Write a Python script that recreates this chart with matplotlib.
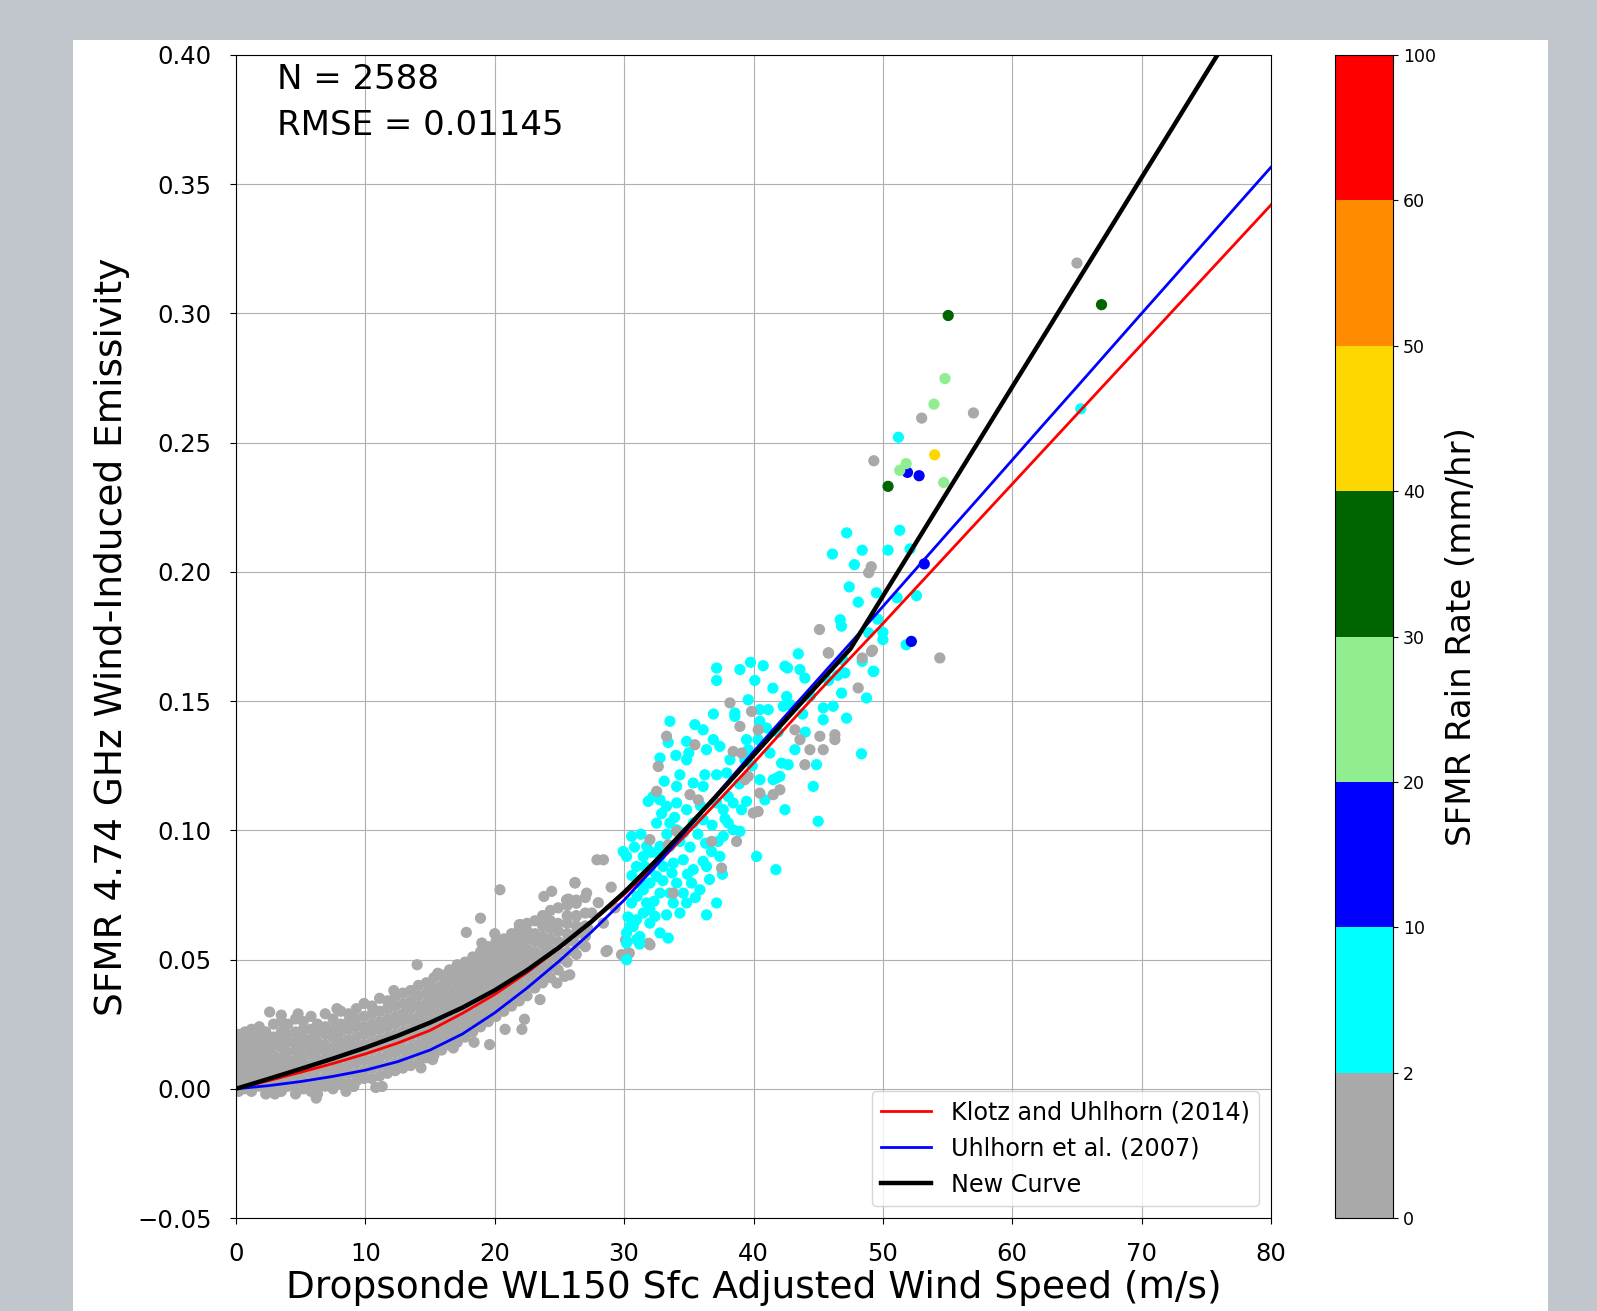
import numpy as np
import matplotlib.pyplot as plt
from matplotlib.colors import ListedColormap, BoundaryNorm
from matplotlib.patches import Rectangle

# model curves, every 2.5 m/s
curve_wind = [0, 2.5, 5, 7.5, 10, 12.5, 15, 17.5, 20, 22.5, 25, 27.5, 30, 32.5, 35, 37.5, 40,
              42.5, 45, 47.5, 50, 52.5, 55, 57.5, 60, 62.5, 65, 67.5, 70, 72.5, 75, 77.5, 80]
klotz_2014 = [0, 0.0031, 0.0064, 0.0098, 0.0135, 0.0177, 0.0226, 0.0292, 0.0365, 0.0450, 0.0545,
              0.0645, 0.0752, 0.0868, 0.0994, 0.1126, 0.1260, 0.1398, 0.1535, 0.1668, 0.1800,
              0.1935, 0.2070, 0.2205, 0.2340, 0.2475, 0.2610, 0.2745, 0.2880, 0.3015, 0.3150,
              0.3285, 0.3420]
uhlhorn_2007 = [0, 0.0012, 0.0028, 0.0048, 0.0072, 0.0105, 0.0150, 0.0212, 0.0294, 0.0390, 0.0495,
                0.0608, 0.0730, 0.0865, 0.1011, 0.1159, 0.1304, 0.1445, 0.1585, 0.1725, 0.1866,
                0.2008, 0.2150, 0.2291, 0.2433, 0.2575, 0.2716, 0.2858, 0.3000, 0.3141, 0.3283,
                0.3425, 0.3566]
new_curve = [0, 0.0038, 0.0077, 0.0117, 0.0159, 0.0205, 0.0256, 0.0314, 0.0381, 0.0459, 0.0548,
             0.0648, 0.0760, 0.0885, 0.1018, 0.1153, 0.1290, 0.1428, 0.1565, 0.1703, 0.1906,
             0.2108, 0.2311, 0.2513, 0.2716, 0.2918, 0.3121, 0.3323, 0.3526, 0.3728, 0.3931,
             0.4133, 0.4336]

# no-rain core of the scatter: wind speed -> emissivities in that column
gray_columns = [
    (0.2, [-0.001, 0.002, 0.005, 0.009, 0.012, 0.015, 0.018, 0.021]),
    (0.7, [0.000, 0.004, 0.007, 0.010, 0.013, 0.017, 0.020, 0.022]),
    (1.2, [-0.001, 0.003, 0.006, 0.009, 0.012, 0.016, 0.019, 0.023]),
    (1.8, [0.001, 0.004, 0.008, 0.011, 0.014, 0.017, 0.021, 0.024]),
    (2.3, [-0.002, 0.002, 0.005, 0.009, 0.012, 0.015, 0.019, 0.022]),
    (2.9, [0.000, 0.003, 0.007, 0.010, 0.013, 0.017, 0.020, 0.025]),
    (3.5, [-0.001, 0.002, 0.006, 0.009, 0.012, 0.016, 0.019, 0.022, 0.026]),
    (4.0, [0.001, 0.004, 0.008, 0.011, 0.014, 0.018, 0.021, 0.025]),
    (4.6, [-0.002, 0.001, 0.005, 0.008, 0.011, 0.015, 0.018, 0.022, 0.027]),
    (5.2, [0.000, 0.003, 0.007, 0.010, 0.013, 0.017, 0.020, 0.023, 0.026]),
    (5.8, [-0.001, 0.002, 0.006, 0.009, 0.013, 0.016, 0.019, 0.023, 0.028]),
    (6.3, [-0.002, 0.001, 0.004, 0.008, 0.011, 0.015, 0.018, 0.022, 0.025]),
    (6.9, [0.001, 0.004, 0.007, 0.011, 0.014, 0.017, 0.021, 0.024, 0.029]),
    (7.5, [0.000, 0.003, 0.006, 0.010, 0.013, 0.016, 0.020, 0.023, 0.027]),
    (8.1, [0.002, 0.005, 0.008, 0.012, 0.015, 0.018, 0.022, 0.025, 0.030]),
    (8.7, [0.002, 0.006, 0.009, 0.012, 0.016, 0.019, 0.023, 0.026, 0.029]),
    (9.3, [0.003, 0.006, 0.010, 0.013, 0.017, 0.020, 0.024, 0.027, 0.031]),
    (9.9, [0.004, 0.007, 0.011, 0.014, 0.017, 0.021, 0.024, 0.028, 0.033]),
    (10.5, [0.004, 0.008, 0.011, 0.015, 0.018, 0.022, 0.025, 0.029, 0.032]),
    (11.1, [0.005, 0.009, 0.012, 0.016, 0.019, 0.023, 0.026, 0.030, 0.035]),
    (11.7, [0.006, 0.009, 0.013, 0.016, 0.020, 0.024, 0.027, 0.031, 0.034]),
    (12.3, [0.007, 0.010, 0.014, 0.017, 0.021, 0.025, 0.028, 0.032, 0.036]),
    (12.9, [0.008, 0.011, 0.015, 0.019, 0.022, 0.026, 0.029, 0.033, 0.037]),
    (13.5, [0.009, 0.013, 0.016, 0.020, 0.023, 0.027, 0.031, 0.034, 0.038]),
    (14.1, [0.010, 0.014, 0.017, 0.021, 0.025, 0.028, 0.032, 0.036, 0.040]),
    (14.7, [0.012, 0.015, 0.019, 0.022, 0.026, 0.030, 0.033, 0.037, 0.041]),
    (15.3, [0.013, 0.017, 0.020, 0.024, 0.028, 0.031, 0.035, 0.039, 0.043]),
    (15.9, [0.015, 0.018, 0.022, 0.026, 0.029, 0.033, 0.037, 0.040, 0.044]),
    (16.5, [0.017, 0.020, 0.024, 0.027, 0.031, 0.035, 0.038, 0.042, 0.046]),
    (17.1, [0.018, 0.022, 0.026, 0.029, 0.033, 0.036, 0.040, 0.044, 0.048]),
    (17.7, [0.020, 0.024, 0.027, 0.031, 0.035, 0.038, 0.042, 0.046, 0.049]),
    (18.3, [0.022, 0.026, 0.029, 0.033, 0.037, 0.040, 0.044, 0.047, 0.051]),
    (18.9, [0.024, 0.028, 0.031, 0.035, 0.039, 0.042, 0.046, 0.049, 0.053]),
    (19.5, [0.026, 0.030, 0.033, 0.037, 0.041, 0.044, 0.048, 0.051, 0.055]),
    (20.1, [0.028, 0.032, 0.035, 0.039, 0.043, 0.046, 0.050, 0.053, 0.057]),
    (20.7, [0.030, 0.034, 0.037, 0.041, 0.045, 0.048, 0.052, 0.055, 0.058]),
    (21.3, [0.032, 0.036, 0.039, 0.043, 0.047, 0.050, 0.054, 0.057, 0.060]),
    (21.9, [0.034, 0.038, 0.041, 0.045, 0.049, 0.052, 0.056, 0.059, 0.062]),
    (22.5, [0.036, 0.040, 0.044, 0.047, 0.051, 0.054, 0.058, 0.061, 0.064]),
    (23.1, [0.039, 0.042, 0.046, 0.050, 0.053, 0.057, 0.060, 0.065]),
    (23.7, [0.041, 0.045, 0.048, 0.052, 0.056, 0.059, 0.063, 0.067]),
    (24.3, [0.043, 0.047, 0.051, 0.054, 0.058, 0.062, 0.065, 0.069]),
    (24.9, [0.046, 0.050, 0.053, 0.057, 0.061, 0.064, 0.070]),
    (25.6, [0.049, 0.053, 0.057, 0.060, 0.064, 0.067, 0.071]),
    (26.3, [0.052, 0.056, 0.060, 0.063, 0.067, 0.073]),
    (27.0, [0.055, 0.059, 0.063, 0.068, 0.074]),
]

# scattered no-rain points (wind, emissivity)
gray_points = [
    (2.6, 0.0297), (3.5, 0.0285), (7.8, 0.031), (14.0, 0.048), (12.2, 0.038), (17.8, 0.0605),
    (18.9, 0.066), (20.4, 0.077), (21.9, 0.0635), (20.0, 0.060), (23.8, 0.0744), (24.4, 0.0764),
    (26.2, 0.0798), (27.1, 0.0757), (27.9, 0.0886), (15.6, 0.0447), (6.2, -0.0036), (9.1, 0.0009),
    (11.3, 0.0009), (14.3, 0.0081), (15.2, 0.0113), (16.8, 0.0158), (18.4, 0.018), (19.6, 0.0171),
    (20.8, 0.023), (22.1, 0.023), (23.5, 0.0345), (24.8, 0.0409), (25.4, 0.0435), (22.3, 0.0269),
    (25.8, 0.0441), (28.7, 0.0535), (29.8, 0.0519), (30.4, 0.0525), (32.0, 0.0557), (25.7, 0.0734),
    (26.3, 0.0718), (23.8, 0.0648), (22.0, 0.0635), (19.0, 0.0564), (28.4, 0.0886), (26.2, 0.0796),
    (28.4, 0.0641), (28.6, 0.0531), (30.1, 0.0576), (30.3, 0.0524), (31.9, 0.0563), (27.5, 0.068),
    (28.0, 0.072), (29.0, 0.078), (29.3, 0.070), (27.2, 0.062), (3.0, -0.002), (8.5, -0.001),
    (0.5, 0.0205), (4.8, 0.029), (10.8, 0.0005), (25.55, 0.0731), (26.3, 0.0667),
]

rain2_points = [
    (37.15, 0.1628), (37.15, 0.158), (38.95, 0.1622), (39.77, 0.165), (40.75, 0.1637), (42.43, 0.1635),
    (42.63, 0.1628), (43.46, 0.1683), (43.59, 0.1622), (43.97, 0.1589), (47.06, 0.1609), (49.25, 0.1615),
    (48.74, 0.1512), (48.35, 0.1296), (47.19, 0.1434), (46.81, 0.1531), (46.16, 0.148), (45.39, 0.1474),
    (45.39, 0.1428), (44.62, 0.117), (45.0, 0.1035), (44.87, 0.1254), (43.2, 0.1312), (42.17, 0.126),
    (42.68, 0.1254), (41.78, 0.1202), (42.04, 0.1209), (40.88, 0.1118), (40.24, 0.0899), (41.73, 0.0848),
    (42.43, 0.108), (39.46, 0.1112), (38.95, 0.0996), (38.05, 0.1028), (38.43, 0.1002), (37.66, 0.0977),
    (37.27, 0.0957), (36.76, 0.0918), (37.4, 0.0899), (36.37, 0.086), (36.11, 0.088), (35.34, 0.0848),
    (35.21, 0.0796), (35.86, 0.077), (34.83, 0.0719), (36.37, 0.0673), (37.15, 0.0719), (33.41, 0.0583),
    (32.38, 0.0667), (31.99, 0.0693), (31.22, 0.0589), (30.45, 0.0628), (30.19, 0.0499), (30.19, 0.0564),
    (30.58, 0.0719), (31.48, 0.077), (31.99, 0.0796), (32.51, 0.0822), (33.02, 0.086), (30.96, 0.086),
    (30.19, 0.0899), (29.93, 0.0918), (30.58, 0.0977), (31.86, 0.1112), (32.77, 0.128), (33.54, 0.1422),
    (33.41, 0.134), (34.83, 0.1344), (36.11, 0.1389), (35.47, 0.1409), (36.89, 0.1351), (37.4, 0.1325),
    (36.37, 0.1312), (34.83, 0.1273), (34.31, 0.1215), (34.06, 0.117), (35.34, 0.1183), (36.24, 0.1215),
    (36.11, 0.117), (37.15, 0.1215), (37.92, 0.1222), (38.18, 0.1273), (38.56, 0.1441), (38.56, 0.1454),
    (39.59, 0.1505), (40.49, 0.1467), (41.14, 0.1467), (40.49, 0.1422), (41.01, 0.1396), (42.3, 0.148),
    (42.56, 0.1518), (42.81, 0.1486), (39.46, 0.1351), (39.59, 0.1312), (39.33, 0.1273), (40.36, 0.1351),
    (41.27, 0.1299), (40.49, 0.1196), (41.52, 0.1196), (38.05, 0.1131), (38.43, 0.1106), (39.08, 0.108),
    (37.66, 0.108), (37.15, 0.1106), (36.11, 0.1041), (35.34, 0.1028), (34.83, 0.108), (34.06, 0.1106),
    (33.28, 0.1093), (32.77, 0.1118), (32.25, 0.1131), (32.51, 0.1028), (33.54, 0.1028), (34.06, 0.1002),
    (34.31, 0.0957), (33.54, 0.0938), (32.77, 0.0938), (31.74, 0.0938), (31.48, 0.0899), (32.77, 0.0899),
    (33.8, 0.0873), (34.57, 0.0886), (31.99, 0.0848), (31.22, 0.0796), (32.77, 0.0757), (33.54, 0.0757),
    (34.06, 0.0796), (34.57, 0.0757), (34.31, 0.068), (33.8, 0.0719), (33.28, 0.0673), (31.99, 0.0641),
    (31.48, 0.068), (30.96, 0.0654), (30.7, 0.0628), (31.74, 0.0719), (32.77, 0.0603), (30.19, 0.0603),
    (30.96, 0.0577), (30.8, 0.0935), (31.3, 0.0985), (31.6, 0.0860), (32.1, 0.0915), (32.9, 0.1065),
    (33.3, 0.0985), (33.9, 0.1050), (34.6, 0.0990), (35.1, 0.0935), (35.7, 0.0985), (36.3, 0.0950),
    (35.9, 0.1095), (36.8, 0.1020), (37.8, 0.1045), (33.0, 0.0805), (33.7, 0.0835), (34.9, 0.0830),
    (35.5, 0.0740), (36.6, 0.0810), (37.6, 0.0830), (30.3, 0.0665), (31.0, 0.0745), (32.3, 0.0725),
    (30.6, 0.0825), (31.2, 0.0560), (38.9, 0.1180), (39.9, 0.1250), (41.9, 0.1380), (43.8, 0.1450),
    (44.4, 0.1520), (44.0, 0.1380), (45.8, 0.1580), (41.5, 0.1550), (40.1, 0.1580), (36.9, 0.1450),
    (35.0, 0.1300), (34.0, 0.1290), (33.1, 0.1190),
    (51.2, 0.2521), (47.2, 0.2151), (46.1, 0.2069), (48.4, 0.2084), (47.8, 0.2028),
    (50.4, 0.2084), (51.3, 0.2161), (52.1, 0.2089), (47.4, 0.1942), (48.1, 0.1883), (49.5, 0.1919),
    (51.1, 0.19), (52.6, 0.1908), (49.6, 0.1817), (46.7, 0.1815), (46.8, 0.179), (48.9, 0.1764),
    (50.0, 0.1766), (50.0, 0.1738), (51.8, 0.1718), (46.9, 0.166), (48.4, 0.1654), (49.3, 0.1615),
    (46.5, 0.160), (65.3, 0.2631),
]

# no-rain points among the rainy ones
gray_high_points = [
    (38.18, 0.1493), (45.78, 0.1686), (48.09, 0.1551), (49.12, 0.1692), (39.85, 0.146), (40.36, 0.1389),
    (38.95, 0.1402), (33.28, 0.1364), (32.64, 0.1247), (35.47, 0.1331), (38.43, 0.1305), (39.08, 0.1299),
    (39.59, 0.1209), (40.49, 0.1144), (41.52, 0.1138), (42.04, 0.1157), (40.36, 0.1073), (39.98, 0.1067),
    (43.2, 0.1389), (43.59, 0.1351), (44.36, 0.1312), (45.39, 0.1312), (45.13, 0.1364), (46.29, 0.137),
    (46.29, 0.1351), (43.97, 0.1254), (32.51, 0.1151), (35.09, 0.1138), (35.73, 0.1118), (34.06, 0.0996),
    (33.41, 0.0944), (36.76, 0.0957), (38.69, 0.0957), (37.53, 0.0854), (33.8, 0.0757), (31.99, 0.0964),
    (39.33, 0.1196), (53.0, 0.2595), (57.0, 0.2615), (49.3, 0.243), (49.1, 0.202), (48.9, 0.1997),
    (45.1, 0.1777), (45.8, 0.1687), (48.4, 0.1667), (49.2, 0.1697), (54.4, 0.1667), (65.0, 0.3195),
]

rain10_points = [(51.9, 0.2385), (52.8, 0.2372), (53.2, 0.2031), (52.2, 0.1731)]
rain20_points = [(54.8, 0.2748), (53.95, 0.2649), (51.8, 0.2419), (51.3, 0.2393), (54.7, 0.2346)]
rain30_points = [(55.05, 0.2992), (50.4, 0.2331), (66.9, 0.3034)]
rain40_points = [(54.0, 0.2453)]

rain_bounds = [0, 2, 10, 20, 30, 40, 50, 60, 100]
rain_colors = ['darkgray', 'cyan', 'blue', 'lightgreen', 'darkgreen', 'gold', 'darkorange', 'red']

# assemble scatter: (wind, emissivity, rain rate used only for colour class)
wind, emis, rain = [], [], []
for u, col in gray_columns:
    for e in col:
        wind.append(u); emis.append(e); rain.append(1)
for group, r in [(gray_points, 1), (rain2_points, 5), (gray_high_points, 1),
                 (rain10_points, 15), (rain20_points, 25), (rain30_points, 35), (rain40_points, 45)]:
    for u, e in group:
        wind.append(u); emis.append(e); rain.append(r)

fig = plt.figure(figsize=(15.97, 13.11), dpi=100, facecolor='#c1c6cc')
fig.add_artist(Rectangle((73/1597, 0), (1548-73)/1597, (1311-40)/1311,
                         transform=fig.transFigure, facecolor='white', edgecolor='none', zorder=-1))

ax = fig.add_axes([236/1597, (1311-1218)/1311, (1271-236)/1597, (1218-55)/1311])
cax = fig.add_axes([1335/1597, (1311-1218)/1311, 58/1597, (1218-55)/1311])

cmap = ListedColormap(rain_colors)
norm = BoundaryNorm(rain_bounds, cmap.N)

sc = ax.scatter(wind, emis, c=rain, cmap=cmap, norm=norm, s=50, zorder=2)
ax.plot(curve_wind, klotz_2014, color='red', lw=2, label='Klotz and Uhlhorn (2014)', zorder=3)
ax.plot(curve_wind, uhlhorn_2007, color='blue', lw=2, label='Uhlhorn et al. (2007)', zorder=3)
ax.plot(curve_wind, new_curve, color='black', lw=3.2, label='New Curve', zorder=4)

ax.set_xlim(0, 80)
ax.set_ylim(-0.05, 0.40)
ax.set_xticks(np.arange(0, 81, 10))
ax.set_yticks(np.arange(-0.05, 0.401, 0.05))
ax.grid(True, zorder=0)
ax.set_axisbelow(True)
ax.tick_params(labelsize=17.5, pad=13.5, length=4)
ax.set_xlabel('Dropsonde WL150 Sfc Adjusted Wind Speed (m/s)', fontsize=27, labelpad=3)
ax.set_ylabel('SFMR 4.74 GHz Wind-Induced Emissivity', fontsize=27, labelpad=5)
ax.text(0.04, 0.9935, 'N = 2588\nRMSE = 0.01145', transform=ax.transAxes, va='top', ha='left',
        fontsize=24.5, linespacing=1.5)
ax.legend(loc='lower right', fontsize=17.2, handlelength=2.1)

cb = fig.colorbar(sc, cax=cax, ticks=rain_bounds)
cb.ax.tick_params(labelsize=12.5)
cb.set_label('SFMR Rain Rate (mm/hr)', fontsize=24.5, labelpad=7)

fig.savefig('out.png', dpi=100)
